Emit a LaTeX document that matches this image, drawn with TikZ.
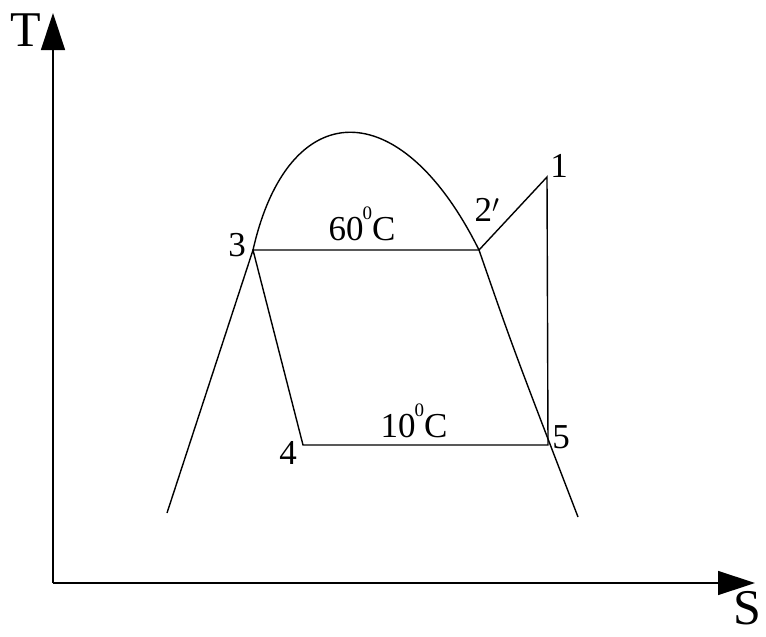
\documentclass[tikz,border=0pt]{standalone}
\usepackage{fontspec}
\setmainfont{Liberation Serif}
\usetikzlibrary{arrows.meta}
\newcommand{\degsup}{\kern-1pt\raisebox{0.58em}{\fontsize{19}{19}\selectfont 0}}
\begin{document}
\begin{tikzpicture}[x=1pt, y=-1pt, line width=1.4pt,
  lbl/.style={font=\fontsize{35}{40}\selectfont, inner sep=0pt},
  axlbl/.style={font=\fontsize{50}{56}\selectfont, inner sep=0pt},
  axis/.style={-{Triangle[length=37pt,width=24pt]}}]
  \useasboundingbox (0,0) rectangle (766,637);
  % axes
  \coordinate (O) at (53,583);
  \coordinate (Ttip) at (53,13);
  \coordinate (Stip) at (755,583);
  \draw[axis] (O) -- (Ttip);
  \draw[axis] (O) -- (Stip);
  \node[axlbl] (Tlbl) at (26,30) {T};
  \node[axlbl] (Slbl) at (747,608) {S};
  % cycle points
  \coordinate (p1) at (547,177);
  \coordinate (p2) at (479,250);
  \coordinate (p3) at (253,250);
  \coordinate (p4) at (303,445);
  \coordinate (p5) at (548,445);
  % saturation dome
  \draw (167,513) -- (p3) .. controls (288,95) and (400,91) .. (p2)
    .. controls (513,348) .. (578,517);
  % cycle
  \draw (p3) -- (p2) -- (p1) -- (p5) -- (p4) -- cycle;
  \node[lbl] (l1) at (559,166) {1};
  \node[lbl] (l2) at (487,210) {2$'$};
  \node[lbl] (l3) at (237,245) {3};
  \node[lbl] (l4) at (288,453) {4};
  \node[lbl] (l5) at (561,437) {5};
  \node[lbl, anchor=base] (thot) at (362,240) {60\degsup C};
  \node[lbl, anchor=base] (tcold) at (414,437) {10\degsup C};
\end{tikzpicture}
\end{document}
